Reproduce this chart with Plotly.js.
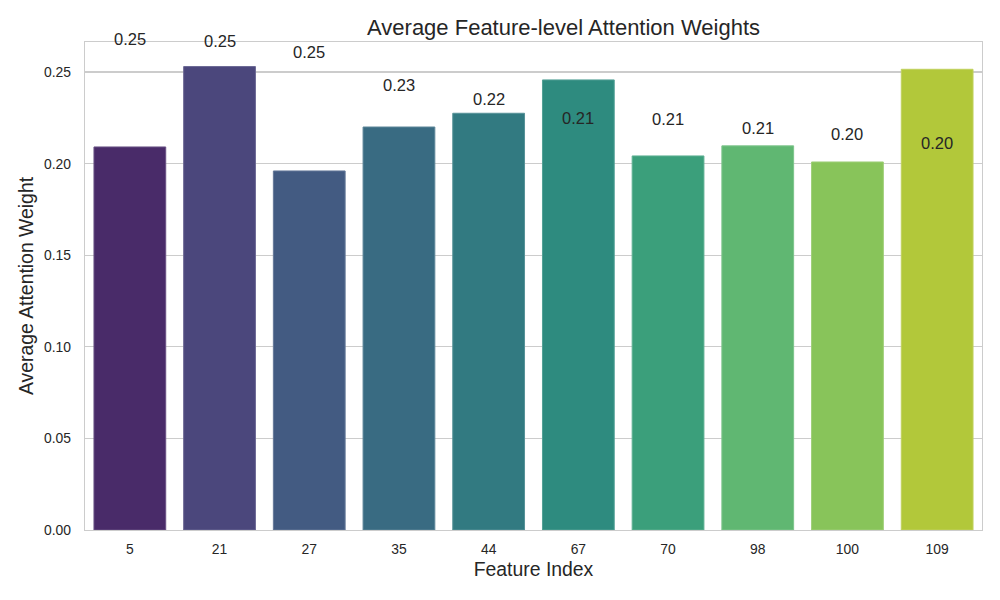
<!DOCTYPE html>
<html>
<head>
<meta charset="utf-8">
<script src="https://cdn.plot.ly/plotly-3.0.1.min.js"></script>
<style>html,body{margin:0;padding:0;background:#fff;}#chart{width:1000px;height:600px;}</style>
</head>
<body>
<div id="chart"></div>
<script>
// Data
const featureIndex = ["5", "21", "27", "35", "44", "67", "70", "98", "100", "109"];
const attentionWeight = [0.2091, 0.2530, 0.1960, 0.2200, 0.2275, 0.2457, 0.2042, 0.2097, 0.2009, 0.2515];
// Value labels as printed in the reference (placed in descending order of values)
const labelTexts = ["0.25", "0.25", "0.25", "0.23", "0.22", "0.21", "0.21", "0.21", "0.20", "0.20"];

// viridis palette (10 colours), desaturated like seaborn (saturation 0.75)
const viridis10 = ["#482173", "#433e85", "#38588c", "#2d708e", "#25858e", "#1e9b8a", "#2ab07f", "#52c569", "#86d549", "#c2df23"];

function hexToRgb(h){ return [parseInt(h.substr(1,2),16)/255, parseInt(h.substr(3,2),16)/255, parseInt(h.substr(5,2),16)/255]; }
function rgbToHls(r,g,b){
  const mx=Math.max(r,g,b), mn=Math.min(r,g,b); const l=(mx+mn)/2; let h=0,s=0;
  if(mx!==mn){ const d=mx-mn; s = l>0.5 ? d/(2-mx-mn) : d/(mx+mn);
    if(mx===r) h=((g-b)/d)%6; else if(mx===g) h=(b-r)/d+2; else h=(r-g)/d+4; h/=6; if(h<0) h+=1; }
  return [h,l,s];
}
function hlsToRgb(h,l,s){
  if(s===0) return [l,l,l];
  const q = l<0.5 ? l*(1+s) : l+s-l*s, p = 2*l-q;
  function f(t){ if(t<0)t+=1; if(t>1)t-=1; if(t<1/6) return p+(q-p)*6*t; if(t<1/2) return q; if(t<2/3) return p+(q-p)*(2/3-t)*6; return p; }
  return [f(h+1/3), f(h), f(h-1/3)];
}
function desat(hex, prop){ const [r,g,b]=hexToRgb(hex); const [h,l,s]=rgbToHls(r,g,b); const c=hlsToRgb(h,l,s*prop); return 'rgb('+c.map(v=>Math.round(v*255)).join(',')+')'; }
function lighten(hex, prop, amt){ const [r,g,b]=hexToRgb(hex); const [h,l,s]=rgbToHls(r,g,b); const c=hlsToRgb(h,l,s*prop).map(v=>v+(1-v)*amt); return 'rgb('+c.map(v=>Math.round(v*255)).join(',')+')'; }

const barColors = viridis10.map(c => desat(c, 0.75));
const edgeColors = viridis10.map(c => lighten(c, 0.75, 0.18));

const sortedVals = attentionWeight.slice().sort((a,b)=>b-a);
const textColor = '#262626';
const annotations = featureIndex.map((f,i)=>({
  x: i, y: sortedVals[i], xref:'x', yref:'y', text: labelTexts[i], showarrow:false,
  yshift: 28, yanchor:'middle', xanchor:'center',
  font:{size:16.5, color:textColor, family:'Liberation Sans, Arial, sans-serif'}
}));

const trace = {
  type:'bar', x: featureIndex, y: attentionWeight,
  marker:{color: barColors, line:{color: edgeColors, width:1}},
  hoverinfo:'x+y'
};

const layout = {
  width:1000, height:600,
  margin:{l:85, r:18, t:42, b:70},
  paper_bgcolor:'#ffffff', plot_bgcolor:'#ffffff',
  font:{family:'Liberation Sans, Arial, sans-serif', color:textColor},
  bargap:0.2,
  title:{text:'Average Feature-level Attention Weights', font:{size:22, color:textColor},
         x:0.5335, xanchor:'center', xref:'paper', y:1-27/600, yanchor:'middle', yref:'container'},
  xaxis:{type:'category', range:[-0.5, 9.5], showgrid:false, showline:true, linecolor:'#cccccc', linewidth:1.25, mirror:true,
         ticks:'outside', ticklen:6, tickcolor:'rgba(0,0,0,0)', tickfont:{size:13.9, color:textColor},
         title:{text:'Feature Index', font:{size:19.4, color:textColor}, standoff:6}, zeroline:false},
  yaxis:{range:[0, 0.2664], tickvals:[0,0.05,0.1,0.15,0.2,0.25], ticktext:['0.00','0.05','0.10','0.15','0.20','0.25'],
         showgrid:true, gridcolor:'#cccccc', gridwidth:1.1, showline:true, linecolor:'#cccccc', linewidth:1.25, mirror:true,
         ticks:'outside', ticklen:10, tickcolor:'rgba(0,0,0,0)', tickfont:{size:13.9, color:textColor},
         title:{text:'Average Attention Weight', font:{size:19.4, color:textColor}, standoff:5}, zeroline:false},
  annotations: annotations,
  showlegend:false
};

Plotly.newPlot('chart', [trace], layout, {displayModeBar:false, staticPlot:true});
</script>
</body>
</html>
